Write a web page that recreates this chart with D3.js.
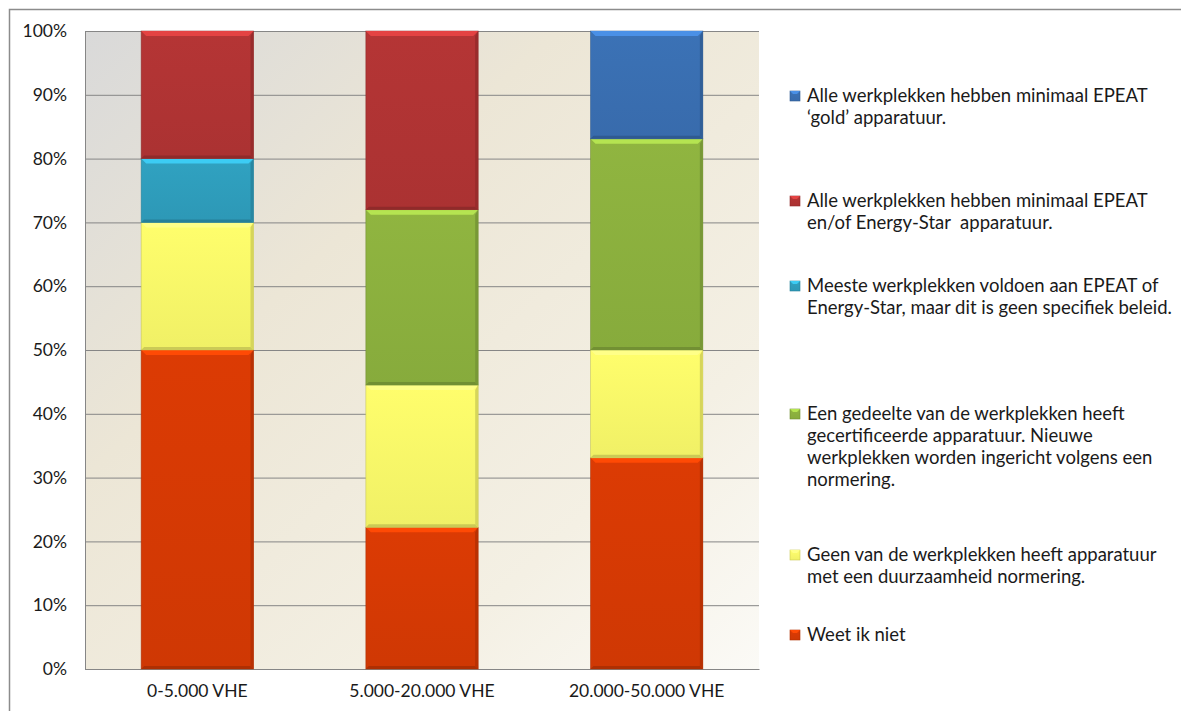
<!DOCTYPE html>
<html>
<head>
<meta charset="utf-8">
<script src="https://cdn.jsdelivr.net/npm/d3@7"></script>
<style>
body { margin: 0; background: #fff; }
text { font-family: Lato, "Open Sans", sans-serif; fill: #1a1a1a; }
</style>
</head>
<body>
<div id="chart"></div>
<script>
// data (percent of respondents)
let categories = ["0-5.000 VHE", "5.000-20.000 VHE", "20.000-50.000 VHE"];
let weetIkNiet = [50, 22.2, 33.1];
let geenNormering = [20, 22.3, 16.9];
let meesteWerkplekken = [10, 0, 0];
let gedeelteWerkplekken = [0, 27.5, 33.1];
let alleEpeat = [20, 28, 0];
let alleGold = [0, 0, 16.9];
let yTicks = [0, 10, 20, 30, 40, 50, 60, 70, 80, 90, 100];

let seriesNames = [
  "Weet ik niet",
  "Geen van de werkplekken heeft apparatuur met een duurzaamheid normering.",
  "Meeste werkplekken voldoen aan EPEAT of Energy-Star, maar dit is geen specifiek beleid.",
  "Een gedeelte van de werkplekken heeft gecertificeerde apparatuur. Nieuwe werkplekken worden ingericht volgens een normering.",
  "Alle werkplekken hebben minimaal EPEAT en/of Energy-Star  apparatuur.",
  "Alle werkplekken hebben minimaal EPEAT ‘gold’ apparatuur."
];
let seriesValues = [weetIkNiet, geenNormering, meesteWerkplekken, gedeelteWerkplekken, alleEpeat, alleGold];
let seriesColors = ["#d83a04", "#fbfa6a", "#2f9fbe", "#8db23f", "#b23434", "#3a70b3"];

// legend text lines, as wrapped in the picture
let legendLines = [
  ["Weet ik niet"],
  ["Geen van de werkplekken heeft apparatuur", "met een duurzaamheid normering."],
  ["Meeste werkplekken voldoen aan EPEAT of", "Energy-Star, maar dit is geen specifiek beleid."],
  ["Een gedeelte van de werkplekken heeft", "gecertificeerde apparatuur. Nieuwe", "werkplekken worden ingericht volgens een", "normering."],
  ["Alle werkplekken hebben minimaal EPEAT", "en/of Energy-Star  apparatuur."],
  ["Alle werkplekken hebben minimaal EPEAT", "‘gold’ apparatuur."]
];
let legendTop = [635, 555, 286, 414, 201, 96];

let width = 1181, height = 711;
let plot = {left: 85, right: 759, top: 31, bottom: 669};
let fontSize = "17.5px";

let svg = d3.select("#chart").append("svg")
  .attr("width", width)
  .attr("height", height);

let defs = svg.append("defs");

let bg = defs.append("linearGradient").attr("id", "bg")
  .attr("x1", "0").attr("y1", "0").attr("x2", "1").attr("y2", "1");
bg.append("stop").attr("offset", "0").attr("stop-color", "#d9d9d9");
bg.append("stop").attr("offset", "0.35").attr("stop-color", "#ece6d6");
bg.append("stop").attr("offset", "0.75").attr("stop-color", "#f4f0e4");
bg.append("stop").attr("offset", "1").attr("stop-color", "#fbfaf6");

seriesColors.forEach((c, i) => {
  let g = defs.append("linearGradient").attr("id", "bar" + i)
    .attr("x1", "0").attr("y1", "0").attr("x2", "0").attr("y2", "1");
  g.append("stop").attr("offset", "0").attr("stop-color", d3.color(c).brighter(0.05));
  g.append("stop").attr("offset", "1").attr("stop-color", d3.color(c).darker(0.12));
});

// outer frame
svg.append("rect")
  .attr("x", 9.5).attr("y", 9.5)
  .attr("width", width).attr("height", height)
  .attr("fill", "none")
  .attr("stroke", "#8c8c8c")
  .attr("stroke-width", 1.5);

let x = d3.scaleBand()
  .domain(categories)
  .range([plot.left, plot.right])
  .paddingInner(0.5)
  .paddingOuter(0.25);

let y = d3.scaleLinear()
  .domain([0, 100])
  .range([plot.bottom, plot.top]);

svg.append("rect")
  .attr("x", plot.left).attr("y", plot.top)
  .attr("width", plot.right - plot.left)
  .attr("height", plot.bottom - plot.top)
  .attr("fill", "url(#bg)");

let yAxis = d3.axisLeft(y)
  .tickValues(yTicks)
  .tickFormat(d => d + "%")
  .tickSize(-(plot.right - plot.left))
  .tickPadding(18);

let ya = svg.append("g")
  .attr("transform", "translate(" + plot.left + ",0)")
  .call(yAxis);
ya.select(".domain").attr("stroke", "#868686");
ya.selectAll(".tick line").attr("stroke", "#868686");
ya.selectAll("text").style("font-size", fontSize).attr("fill", "#1a1a1a");

let xAxis = d3.axisBottom(x).tickSize(0).tickPadding(16);
let xa = svg.append("g")
  .attr("transform", "translate(0," + plot.bottom + ")")
  .call(xAxis);
xa.select(".domain").attr("stroke", "#868686");
xa.selectAll("text").style("font-size", fontSize).attr("fill", "#1a1a1a");

// stacked bars
let table = categories.map((c, i) => {
  let row = {cat: c};
  seriesValues.forEach((s, j) => { row["s" + j] = s[i]; });
  return row;
});
let stack = d3.stack().keys(seriesValues.map((s, j) => "s" + j))(table);

let bw = x.bandwidth();
let bevel = 5;

stack.forEach((layer, i) => {
  let g = svg.append("g").attr("class", "layer");
  let segs = layer.filter(d => d[1] - d[0] > 0);

  g.selectAll("rect.seg")
    .data(segs)
    .enter()
    .append("rect")
    .attr("class", "seg")
    .attr("x", d => x(d.data.cat))
    .attr("y", d => y(d[1]))
    .attr("width", bw)
    .attr("height", d => y(d[0]) - y(d[1]))
    .attr("fill", "url(#bar" + i + ")")
    .attr("stroke", d3.color(seriesColors[i]).darker(0.8))
    .attr("stroke-width", 0.8)
    .attr("stroke-opacity", 0.6);

  // bevel highlight at top
  g.selectAll("path.top")
    .data(segs)
    .enter()
    .append("path")
    .attr("class", "top")
    .attr("d", d => {
      let x0 = x(d.data.cat), y0 = y(d[1]);
      return "M" + x0 + "," + y0 + "L" + (x0 + bw) + "," + y0 +
        "L" + (x0 + bw - bevel) + "," + (y0 + bevel) + "L" + (x0 + bevel) + "," + (y0 + bevel) + "Z";
    })
    .attr("fill", d3.color(seriesColors[i]).brighter(0.7));

  // bevel shade at bottom and right
  g.selectAll("path.bot")
    .data(segs)
    .enter()
    .append("path")
    .attr("class", "bot")
    .attr("d", d => {
      let x0 = x(d.data.cat), y1 = y(d[0]);
      return "M" + x0 + "," + y1 + "L" + (x0 + bw) + "," + y1 +
        "L" + (x0 + bw - 3) + "," + (y1 - 3) + "L" + (x0 + 3) + "," + (y1 - 3) + "Z";
    })
    .attr("fill", d3.color(seriesColors[i]).darker(0.6));

  g.selectAll("path.side")
    .data(segs)
    .enter()
    .append("path")
    .attr("class", "side")
    .attr("d", d => {
      let x1 = x(d.data.cat) + bw, y0 = y(d[1]), y1 = y(d[0]);
      return "M" + x1 + "," + y0 + "L" + x1 + "," + y1 +
        "L" + (x1 - 3) + "," + (y1 - 3) + "L" + (x1 - 3) + "," + (y0 + bevel) + "Z";
    })
    .attr("fill", d3.color(seriesColors[i]).darker(0.45));
});

// legend
let legend = svg.append("g").attr("class", "legend");
seriesNames.forEach((name, i) => {
  let item = legend.append("g")
    .attr("transform", "translate(790," + legendTop[i] + ")");
  item.append("rect")
    .attr("x", 0).attr("y", -5)
    .attr("width", 10).attr("height", 10)
    .attr("fill", "url(#bar" + i + ")")
    .attr("stroke", d3.color(seriesColors[i]).darker(0.6))
    .attr("stroke-width", 0.6);
  item.append("path")
    .attr("d", "M0,-5L10,-5L7,-2L3,-2Z")
    .attr("fill", d3.color(seriesColors[i]).brighter(0.7));
  let t = item.append("text")
    .attr("x", 17)
    .attr("y", 0)
    .style("font-size", "18.5px")
    .style("white-space", "pre");
  legendLines[i].forEach((line, k) => {
    t.append("tspan")
      .attr("x", 17)
      .attr("y", k * 22)
      .attr("dy", "0.35em")
      .text(line);
  });
});
</script>
</body>
</html>
